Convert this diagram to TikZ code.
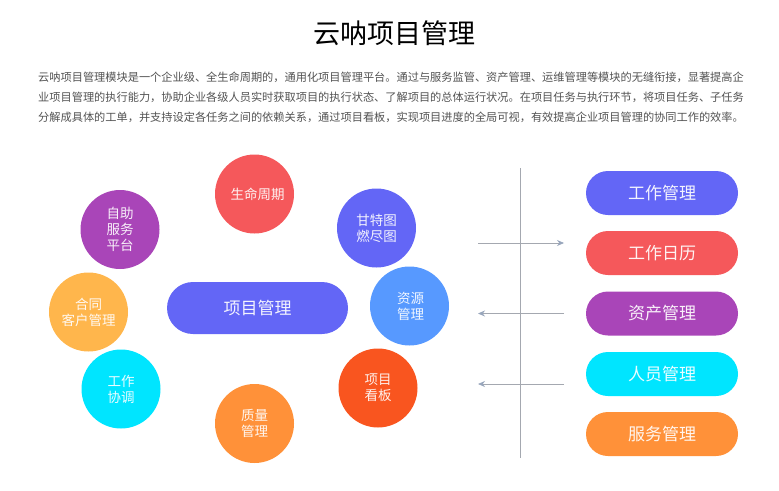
\documentclass[tikz,border=0pt]{standalone}
\usepackage{fontspec}
\setmainfont{Noto Sans CJK SC}
\usetikzlibrary{arrows.meta}
\usetikzlibrary{shapes.misc}
\definecolor{cblue}{HTML}{6366F6}
\definecolor{cred}{HTML}{F5585B}
\definecolor{cpurple}{HTML}{A945B8}
\definecolor{ccyan}{HTML}{00E5FF}
\definecolor{corange}{HTML}{FF9139}
\definecolor{camber}{HTML}{FFB64C}
\definecolor{csky}{HTML}{5799FF}
\definecolor{cdeep}{HTML}{F9551F}
\definecolor{cline}{HTML}{A4A8B0}
\definecolor{ctip}{HTML}{98A6BC}
\tikzset{
	ball/.style={circle, fill=#1, minimum size=79pt, inner sep=0pt, text=white!92!#1, align=center, font=\fontsize{13.5}{16}\selectfont},
	pill/.style={rounded rectangle, fill=#1, minimum width=152pt, minimum height=44pt, inner sep=0pt, text=white!92!#1, font=\fontsize{17}{20}\selectfont},
	bodyline/.style={anchor=west, inner sep=0pt, text=black!68, font=\fontsize{11.2}{14}\selectfont},
	flow/.style={cline, line width=0.8pt, -{Stealth[ctip, length=7pt, width=6pt]}},
}
\begin{document}
\begin{tikzpicture}[x=1pt, y=-1pt]
	\useasboundingbox (0,0) rectangle (779,490);
	
	\node[inner sep=0pt, font=\fontsize{27}{32}\selectfont] (title) at (394,33) {云呐项目管理};
	\node[bodyline] (line1) at (38,77) {云呐项目管理模块是一个企业级、全生命周期的，通用化项目管理平台。通过与服务监管、资产管理、运维管理等模块的无缝衔接，显著提高企};
	\node[bodyline] (line2) at (38,97) {业项目管理的执行能力，协助企业各级人员实时获取项目的执行状态、了解项目的总体运行状况。在项目任务与执行环节，将项目任务、子任务};
	\node[bodyline] (line3) at (38,117) {分解成具体的工单，并支持设定各任务之间的依赖关系，通过项目看板，实现项目进度的全局可视，有效提高企业项目管理的协同工作的效率。};
	
	\node[ball=cred] (life) at (254.5,194) {\hspace*{6pt}生命周期};
	\node[ball=cblue] (gantt) at (376.5,228) {甘特图\\燃尽图};
	\node[ball=cpurple] (self) at (120,229.5) {自助\\服务\\平台};
	\node[ball=camber] (contract) at (88.5,312) {合同\\客户管理};
	\node[ball=csky] (res) at (409.5,306) {\hspace*{2pt}资源\\\hspace*{2pt}管理};
	\node[ball=ccyan] (coop) at (121,389) {工作\\协调};
	\node[ball=cdeep] (board) at (378,388) {项目\\看板};
	\node[ball=corange] (quality) at (254.5,423.5) {质量\\管理};
	\node[pill=cblue, minimum width=181pt, minimum height=52pt] (main) at (257.5,308) {项目管理};
	
	\node[pill=cblue] (work) at (662,193) {工作管理};
	\node[pill=cred] (cal) at (662,253) {工作日历};
	\node[pill=cpurple] (asset) at (662,313.5) {资产管理};
	\node[pill=ccyan] (staff) at (662,374) {人员管理};
	\node[pill=corange] (service) at (662,434) {服务管理};
	
	\coordinate (top) at (520.5,168);
	\coordinate (bottom) at (520.5,458);
	\draw[cline, line width=0.9pt] (top) -- (bottom);
	
	\coordinate (a1) at (478,243);
	\coordinate (b1) at (564,243);
	\coordinate (a2) at (564,313.5);
	\coordinate (b2) at (478,313.5);
	\coordinate (a3) at (564,384);
	\coordinate (b3) at (478,384);
	\foreach \i in {1,2,3}
		\draw[flow] (a\i) -- (b\i);
\end{tikzpicture}
\end{document}
